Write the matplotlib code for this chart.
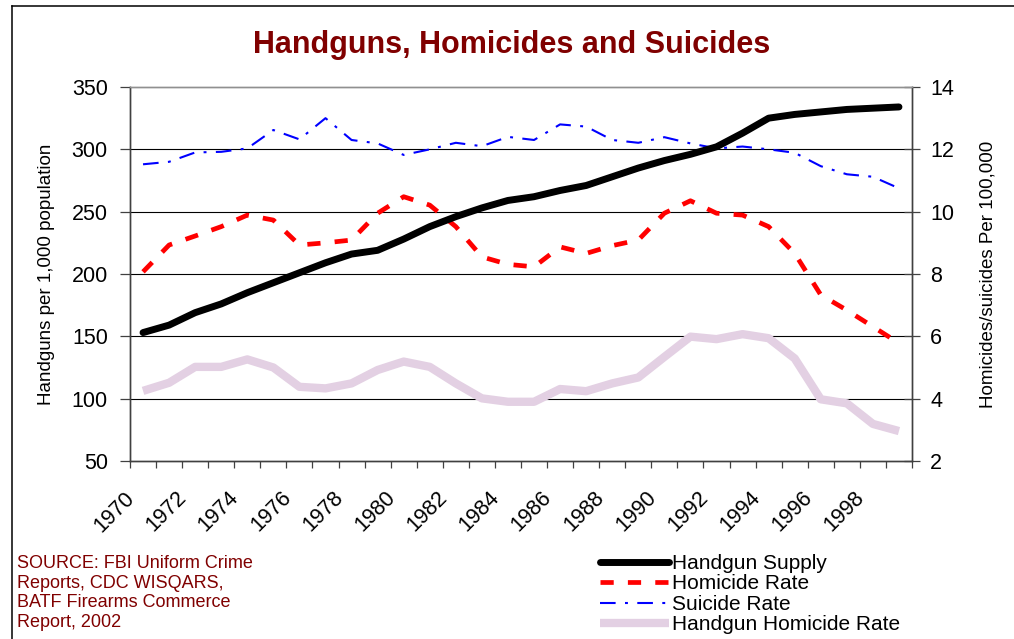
import matplotlib
matplotlib.use('Agg')

import matplotlib.pyplot as plt
import matplotlib.transforms as mtransforms
from matplotlib.lines import Line2D

plt.rcParams['font.family'] = ['Liberation Sans', 'DejaVu Sans']

# ===== DATA =====
years = list(range(1970, 2000))
handgun_supply = [153, 159, 169, 176, 185, 193, 201, 209, 216, 219,
                  228, 238, 246, 253, 259, 262, 267, 271, 278, 285,
                  291, 296, 302, 313, 325, 328, 330, 332, 333, 334]
homicide_rate = [8.07, 8.93, 9.22, 9.52, 9.89, 9.73, 8.93, 9.0, 9.09, 9.95,
                 10.48, 10.21, 9.52, 8.55, 8.31, 8.23, 8.87, 8.66, 8.91, 9.09,
                 9.95, 10.35, 9.95, 9.89, 9.52, 8.66, 7.33, 6.84, 6.31, 5.78]
suicide_rate = [11.52, 11.6, 11.9, 11.92, 12.03, 12.62, 12.32, 13.0, 12.3, 12.19,
                11.82, 12.0, 12.21, 12.1, 12.4, 12.3, 12.8, 12.73, 12.3, 12.21,
                12.39, 12.19, 12.03, 12.09, 12.0, 11.89, 11.46, 11.2, 11.12, 10.75]
handgun_homicide_rate = [4.25, 4.51, 5.02, 5.02, 5.26, 5.0, 4.38, 4.33, 4.49, 4.92,
                         5.19, 5.02, 4.49, 4.01, 3.9, 3.9, 4.31, 4.24, 4.49, 4.68,
                         5.34, 5.99, 5.91, 6.07, 5.94, 5.29, 3.98, 3.85, 3.19, 2.96]
year_labels = [str(y) for y in range(1970, 2000, 2)]
left_ticks = [50, 100, 150, 200, 250, 300, 350]
right_ticks = [2, 4, 6, 8, 10, 12, 14]

DARK_RED = '#800000'
AXIS_GRAY = '#404040'

W, H = 1014, 639
fig = plt.figure(figsize=(W / 100, H / 100), dpi=100, facecolor='white')

# outer frame: only the left and top edges show in the original
fig.add_artist(Line2D([12 / W, 12 / W], [0, 1 - 6 / H], transform=fig.transFigure,
                      color='black', linewidth=1.1))
fig.add_artist(Line2D([12 / W, 1], [1 - 6 / H, 1 - 6 / H], transform=fig.transFigure,
                      color='black', linewidth=1.1))

ax = fig.add_axes([130 / W, 1 - 461 / H, (912 - 130) / W, (461 - 87) / H])
ax2 = ax.twinx()

x = list(range(len(years)))

# ===== LINES =====
ln_hh, = ax2.plot(x, handgun_homicide_rate, color='#e3d0e3', linewidth=6,
                  solid_capstyle='butt', label='Handgun Homicide Rate', zorder=2)
ln_sui, = ax2.plot(x, suicide_rate, color='#0000ff', linewidth=1.5,
                   linestyle=(0, (7.5, 4.5, 1.4, 4.5)), label='Suicide Rate', zorder=3)
ln_hom, = ax2.plot(x, homicide_rate, color='#ff0000', linewidth=3.4,
                   linestyle=(0, (2.8, 3.0)), label='Homicide Rate', zorder=4)
ln_sup, = ax.plot(x, handgun_supply, color='black', linewidth=5,
                  solid_capstyle='round', label='Handgun Supply')

# primary axis on top, so the black line sits over the others
ax.set_zorder(ax2.get_zorder() + 1)
ax.patch.set_visible(False)
ax2.patch.set_facecolor('white')

# ===== AXES =====
ax.set_xlim(-0.5, len(years) - 0.5)
ax.set_ylim(50, 350)
ax2.set_ylim(2, 14)

ax.set_yticks(left_ticks)
ax.set_yticklabels([str(t) for t in left_ticks])
ax2.set_yticks(right_ticks)
ax2.set_yticklabels([str(t) for t in right_ticks])

for yv in left_ticks[1:-1]:
    ax2.axhline((yv - 50) / 25 + 2, color='black', linewidth=0.8, zorder=0)

bounds = [i - 0.5 for i in range(len(years) + 1)]
ax.set_xticks(bounds, minor=True)
ax.set_xticks(bounds[0:len(years):2])
ax.set_xticklabels(year_labels, rotation=45, ha='right', va='top',
                   rotation_mode='anchor', fontsize=15.5)
ax.tick_params(axis='x', which='both', direction='out', length=5, width=0.9,
               color=AXIS_GRAY, pad=14)
offset = mtransforms.ScaledTranslation(-6 / 100, 0, fig.dpi_scale_trans)
for lbl in ax.get_xticklabels():
    lbl.set_transform(lbl.get_transform() + offset)

ax.tick_params(axis='y', direction='out', length=7, width=0.9, color=AXIS_GRAY,
               labelsize=15.5, pad=9)
ax2.tick_params(axis='y', direction='inout', length=12, width=0.9, color=AXIS_GRAY,
                labelsize=15.5, pad=7)

for a in (ax, ax2):
    a.spines['top'].set_color('#909090')
    a.spines['left'].set_color(AXIS_GRAY)
    a.spines['right'].set_color(AXIS_GRAY)
    a.spines['bottom'].set_color(AXIS_GRAY)
    for s in a.spines.values():
        s.set_linewidth(1.0)

ax.set_ylabel('Handguns per 1,000 population', fontsize=13.5, labelpad=12)
ax2.set_ylabel('Homicides/suicides Per 100,000', fontsize=13.5, labelpad=18)

# ===== TITLE / SOURCE / LEGEND =====
fig.text(512 / W, 1 - 45 / H, 'Handguns, Homicides and Suicides', ha='center', va='center',
         fontsize=22, fontweight='bold', color=DARK_RED)

fig.text(17 / W, 1 - 555 / H,
         'SOURCE: FBI Uniform Crime\nReports, CDC WISQARS,\nBATF Firearms Commerce\nReport, 2002',
         ha='left', va='top', fontsize=13, color=DARK_RED, linespacing=1.2)

fig.legend(handles=[ln_sup, ln_hom, ln_sui, ln_hh],
           labels=['Handgun Supply', 'Homicide Rate', 'Suicide Rate', 'Handgun Homicide Rate'],
           loc='upper left', bbox_to_anchor=(600 / W, 1 - 554 / H), frameon=False,
           fontsize=15, handlelength=3.3, handletextpad=0.15, labelspacing=0.07,
           borderpad=0, borderaxespad=0)

fig.savefig('out.png', dpi=100, facecolor='white')
